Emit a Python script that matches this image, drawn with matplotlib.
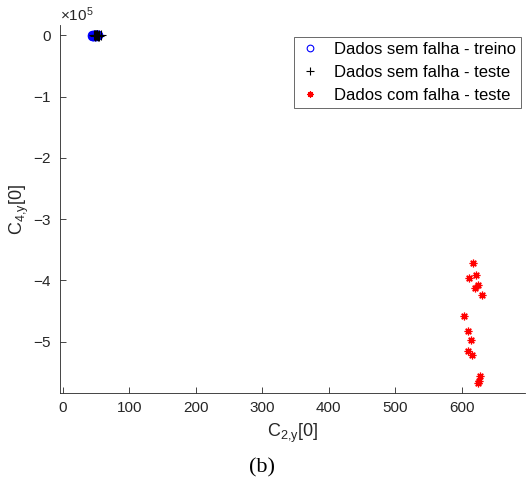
import matplotlib
matplotlib.use("Agg")
import matplotlib.pyplot as plt
import numpy as np
from matplotlib.ticker import ScalarFormatter

plt.rcParams['font.family'] = ['Liberation Sans', 'DejaVu Sans']
plt.rcParams['axes.unicode_minus'] = False
plt.rcParams['mathtext.fontset'] = 'custom'
plt.rcParams['mathtext.rm'] = 'Liberation Sans'

# fault-free training data (C2,y[0], C4,y[0])
treino_x = [44, 45, 46, 47, 48, 49, 50, 51, 52, 53, 44, 46, 48, 50, 52, 45, 47, 49, 51, 53]
treino_y = [-200, 150, -400, 300, -100, 250, -300, 100, -50, 200,
            400, -250, 350, -150, 50, -350, 120, -220, 280, -80]

# fault-free test data
teste_x = [47, 48, 49, 50, 51, 52, 53, 54, 55, 57]
teste_y = [-100, 200, -250, 150, -50, 300, -200, 100, -150, 50]

# faulty test data
falha_x = [617, 611, 622, 625, 620, 630, 603, 610, 614, 609, 615, 627, 626, 625]
falha_y = [-3.71e5, -3.96e5, -3.92e5, -4.08e5, -4.12e5, -4.24e5, -4.59e5,
           -4.83e5, -4.98e5, -5.16e5, -5.22e5, -5.57e5, -5.65e5, -5.68e5]

fig = plt.figure(figsize=(5.27, 4.82), dpi=100)
ax = fig.add_axes([60 / 527, 1 - 393 / 482, 465 / 527, 368 / 482])

ax.plot(treino_x, treino_y, 'o', color='blue', markerfacecolor='none',
        markersize=6, markeredgewidth=0.8, label='Dados sem falha - treino')
ax.plot(teste_x, teste_y, '+', color='black', markersize=7,
        markeredgewidth=0.8, label='Dados sem falha - teste')
ax.plot(falha_x, falha_y, linestyle='none', marker=(8, 2, 0), color='red',
        markersize=5.5, markeredgewidth=0.9, label='Dados com falha - teste')

ax.set_xlim(-4, 695)
ax.set_ylim(-5.84e5, 0.17e5)
ax.set_xticks([0, 100, 200, 300, 400, 500, 600])
ax.set_yticks([-5e5, -4e5, -3e5, -2e5, -1e5, 0])

fmt = ScalarFormatter(useMathText=True)
fmt.set_powerlimits((0, 0))
ax.yaxis.set_major_formatter(fmt)
ax.yaxis.get_offset_text().set_fontsize(11)
ax.yaxis.get_offset_text().set_color('#262626')

for side in ['top', 'right']:
    ax.spines[side].set_visible(False)
for side in ['left', 'bottom']:
    ax.spines[side].set_color('#262626')
    ax.spines[side].set_linewidth(0.6)
ax.tick_params(direction='in', length=4, width=0.6, colors='#262626',
               labelsize=11, pad=6)

ax.set_xlabel(r'C$_{\mathrm{2{,}y}}$[0]', fontsize=13, color='#262626', labelpad=5)
ax.set_ylabel(r'C$_{\mathrm{4{,}y}}$[0]', fontsize=13, color='#262626', labelpad=1)

leg = ax.legend(loc='upper right', bbox_to_anchor=(0.991, 0.967), fontsize=12,
                frameon=True, fancybox=False, handlelength=1.4, markerscale=0.8,
                borderaxespad=0, borderpad=0.3, labelspacing=0.48,
                handletextpad=0.7)
leg.get_frame().set_edgecolor('#262626')
leg.get_frame().set_linewidth(0.6)

fig.text(262 / 527, 1 - 468 / 482, '(b)', fontsize=16, ha='center', va='center',
         family='Liberation Serif')

fig.savefig('out.png', dpi=100)
